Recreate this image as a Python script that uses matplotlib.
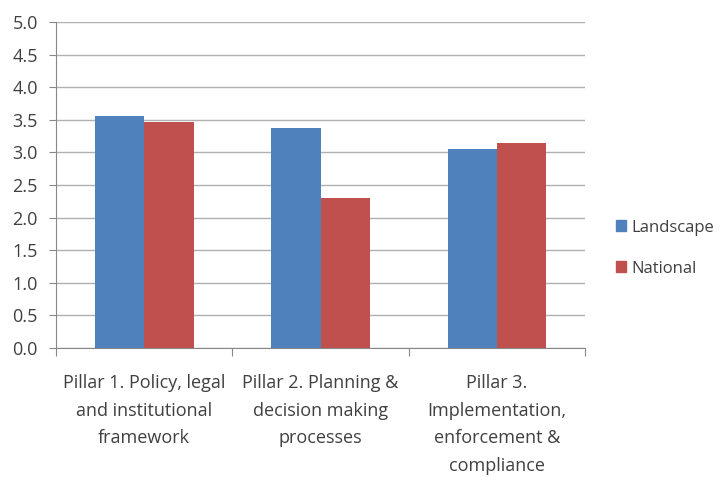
import matplotlib
matplotlib.use("Agg")
import matplotlib.pyplot as plt
from matplotlib.patches import Patch
import numpy as np

categories = ["Pillar 1. Policy, legal\nand institutional\nframework",
              "Pillar 2. Planning &\ndecision making\nprocesses",
              "Pillar 3.\nImplementation,\nenforcement &\ncompliance"]
landscape = [3.56, 3.37, 3.05]
national = [3.47, 2.30, 3.14]
yticks = [0.0, 0.5, 1.0, 1.5, 2.0, 2.5, 3.0, 3.5, 4.0, 4.5, 5.0]

plt.rcParams['font.family'] = ['Open Sans', 'DejaVu Sans']
blue = "#4f81bd"
red = "#c0504d"
txt = "#404040"

fig = plt.figure(figsize=(7.27, 4.78), dpi=100)
ax = fig.add_axes([0.077, 0.272, 0.728, 0.682])
x = np.arange(len(categories))
w = 0.28
ax.bar(x - w/2, landscape, w, color=blue, zorder=3)
ax.bar(x + w/2, national, w, color=red, zorder=3)

ax.set_xlim(-0.5, 2.5)
ax.set_ylim(0, 5)
ax.set_yticks(yticks)
ax.set_yticklabels([f"{v:.1f}" for v in yticks], fontsize=13, color=txt)
ax.yaxis.grid(True, color="#b0b0b0", linewidth=1, zorder=0)
ax.set_xticks([-0.5, 0.5, 1.5, 2.5])
ax.set_xticklabels([])
ax.set_xticks(x, minor=True)
ax.set_xticklabels(categories, minor=True, fontsize=13, color=txt, linespacing=1.68)
ax.tick_params(axis='x', which='minor', length=0, pad=19)
ax.tick_params(axis='x', which='major', length=6, color="#888888", direction='out')
ax.tick_params(axis='y', length=5, color="#888888", pad=8)
for s in ['top', 'right']:
    ax.spines[s].set_visible(False)
for s in ['left', 'bottom']:
    ax.spines[s].set_color("#888888")

handles = [Patch(color=blue, label="Landscape"), Patch(color=red, label="National")]
leg = fig.legend(handles=handles, loc='center left', bbox_to_anchor=(0.848, 0.481),
                 frameon=False, fontsize=12, handlelength=0.6, handleheight=0.6,
                 handletextpad=0.3, labelspacing=1.5, labelcolor=txt,
                 borderpad=0, borderaxespad=0)

fig.savefig("out.png", dpi=100)
